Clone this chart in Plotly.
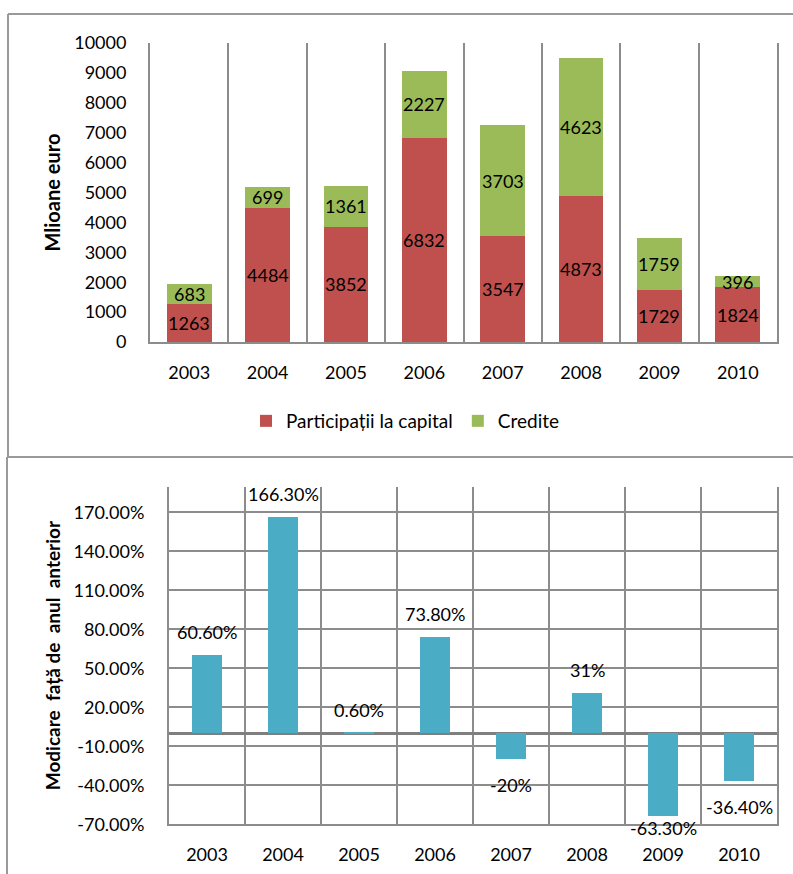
import plotly.graph_objects as go

# ---------------- data ----------------
years = ["2003", "2004", "2005", "2006", "2007", "2008", "2009", "2010"]
participatii = [1263, 4484, 3852, 6832, 3547, 4873, 1729, 1824]
credite = [683, 699, 1361, 2227, 3703, 4623, 1759, 396]
modificare = [60.6, 166.3, 0.6, 73.8, -20, 31, -63.3, -36.4]
modificare_labels = ["60.60%", "166.30%", "0.60%", "73.80%", "-20%", "31%", "-63.30%", "-36.40%"]
y1_ticks = list(range(0, 10001, 1000))
y2_ticks = [-70, -40, -10, 20, 50, 80, 110, 140, 170]
y2_ticktext = ["%.2f%%" % v for v in y2_ticks]

# ---------------- layout helpers ----------------
W, H = 793, 874
def fx(p):
    return p / W
def fy(p):
    return 1 - p / H

FONT = "Lato"
FS = 18
GRID = "#8c8c8c"
RED = "#C0504D"
GREEN = "#9BBB59"
BLUE = "#4BACC6"
Y2_MIN, Y2_MAX = -70, 189.5

fig = go.Figure()

fig.add_trace(go.Bar(x=years, y=participatii, name="Participații la capital",
                     marker=dict(color=RED, line=dict(width=0)), width=0.57,
                     xaxis="x", yaxis="y"))
fig.add_trace(go.Bar(x=years, y=credite, name="Credite",
                     marker=dict(color=GREEN, line=dict(width=0)), width=0.57,
                     xaxis="x", yaxis="y"))
fig.add_trace(go.Bar(x=years, y=modificare, name="Modificare", showlegend=False,
                     marker=dict(color=BLUE, line=dict(width=0)), width=0.39,
                     xaxis="x2", yaxis="y2"))

annotations = []
for i, (p, c) in enumerate(zip(participatii, credite)):
    annotations.append(dict(x=i, y=p / 2, xref="x", yref="y", text=str(p),
                            showarrow=False, font=dict(family=FONT, size=FS, color="black")))
    annotations.append(dict(x=i, y=p + c / 2, xref="x", yref="y", text=str(c),
                            showarrow=False, font=dict(family=FONT, size=FS, color="black")))
for i, (v, t) in enumerate(zip(modificare, modificare_labels)):
    if v >= 0:
        ypos, shift = v, 23
    else:
        ypos, shift = v, -26
        if v - 20 < Y2_MIN:
            ypos, shift = Y2_MIN, -4
    annotations.append(dict(x=i, y=ypos, xref="x2", yref="y2", yshift=shift, text=t,
                            showarrow=False, font=dict(family=FONT, size=FS, color="black")))

line_style = dict(color="#9a9a9a", width=2)
shapes = [
    dict(type="line", xref="paper", yref="paper", x0=fx(8), x1=fx(8), y0=fy(14), y1=fy(457), line=line_style),
    dict(type="line", xref="paper", yref="paper", x0=fx(8), x1=1, y0=fy(14), y1=fy(14), line=line_style),
    dict(type="line", xref="paper", yref="paper", x0=fx(7), x1=1, y0=fy(457), y1=fy(457), line=line_style),
    dict(type="line", xref="paper", yref="paper", x0=fx(7), x1=fx(7), y0=fy(457), y1=0, line=line_style),
]

xaxis_common = dict(type="category", tickson="boundaries", showgrid=True, gridcolor=GRID, gridwidth=2,
                    showline=True, linecolor=GRID, linewidth=2, ticks="",
                    range=[-0.5, 7.5], categoryorder="array", categoryarray=years,
                    tickfont=dict(family=FONT, size=FS, color="black"),
                    fixedrange=True, automargin=False)

fig.update_layout(
    width=W, height=H,
    margin=dict(l=0, r=0, t=0, b=0, pad=0, autoexpand=False),
    paper_bgcolor="white", plot_bgcolor="white",
    barmode="stack",
    font=dict(family=FONT, size=FS, color="black"),
    xaxis=dict(domain=[fx(150), fx(777)], anchor="y", ticklabelstandoff=13, **xaxis_common),
    yaxis=dict(domain=[fy(342), fy(43)], anchor="x", range=[0, 10000], tickvals=y1_ticks,
               tickformat="d", automargin=False,
               showgrid=False, zeroline=False, showline=True, mirror=True, linecolor=GRID, linewidth=2,
               ticks="outside", ticklen=18, tickcolor="rgba(0,0,0,0)",
               tickfont=dict(family=FONT, size=FS, color="black"),
               title=dict(text="<b>Mlioane euro</b>", font=dict(family=FONT, size=20, color="black"), standoff=8)),
    xaxis2=dict(domain=[fx(169), fx(777)], anchor="y2", ticklabelstandoff=13, **xaxis_common),
    yaxis2=dict(domain=[fy(824.3), fy(487)], anchor="x2", range=[Y2_MIN, Y2_MAX], tickvals=y2_ticks,
                ticktext=y2_ticktext, showgrid=True, gridcolor=GRID, gridwidth=2, automargin=False,
                zeroline=True, zerolinecolor="#7f7f7f", zerolinewidth=2.5,
                showline=True, mirror=True, linecolor=GRID, linewidth=2,
                ticks="outside", ticklen=19, tickcolor="rgba(0,0,0,0)",
                tickfont=dict(family=FONT, size=FS, color="black"),
                title=dict(text="<b>Modicare  fa\u021b\u0103 de  anul  anterior</b>",
                           font=dict(family=FONT, size=19, color="black"), standoff=8)),
    legend=dict(orientation="h", x=fx(246), xanchor="left", y=fy(421), yanchor="middle",
                font=dict(family=FONT, size=19, color="black"), bgcolor="rgba(0,0,0,0)",
                traceorder="normal"),
    annotations=annotations,
    shapes=shapes,
)

fig.write_html("out.html")
